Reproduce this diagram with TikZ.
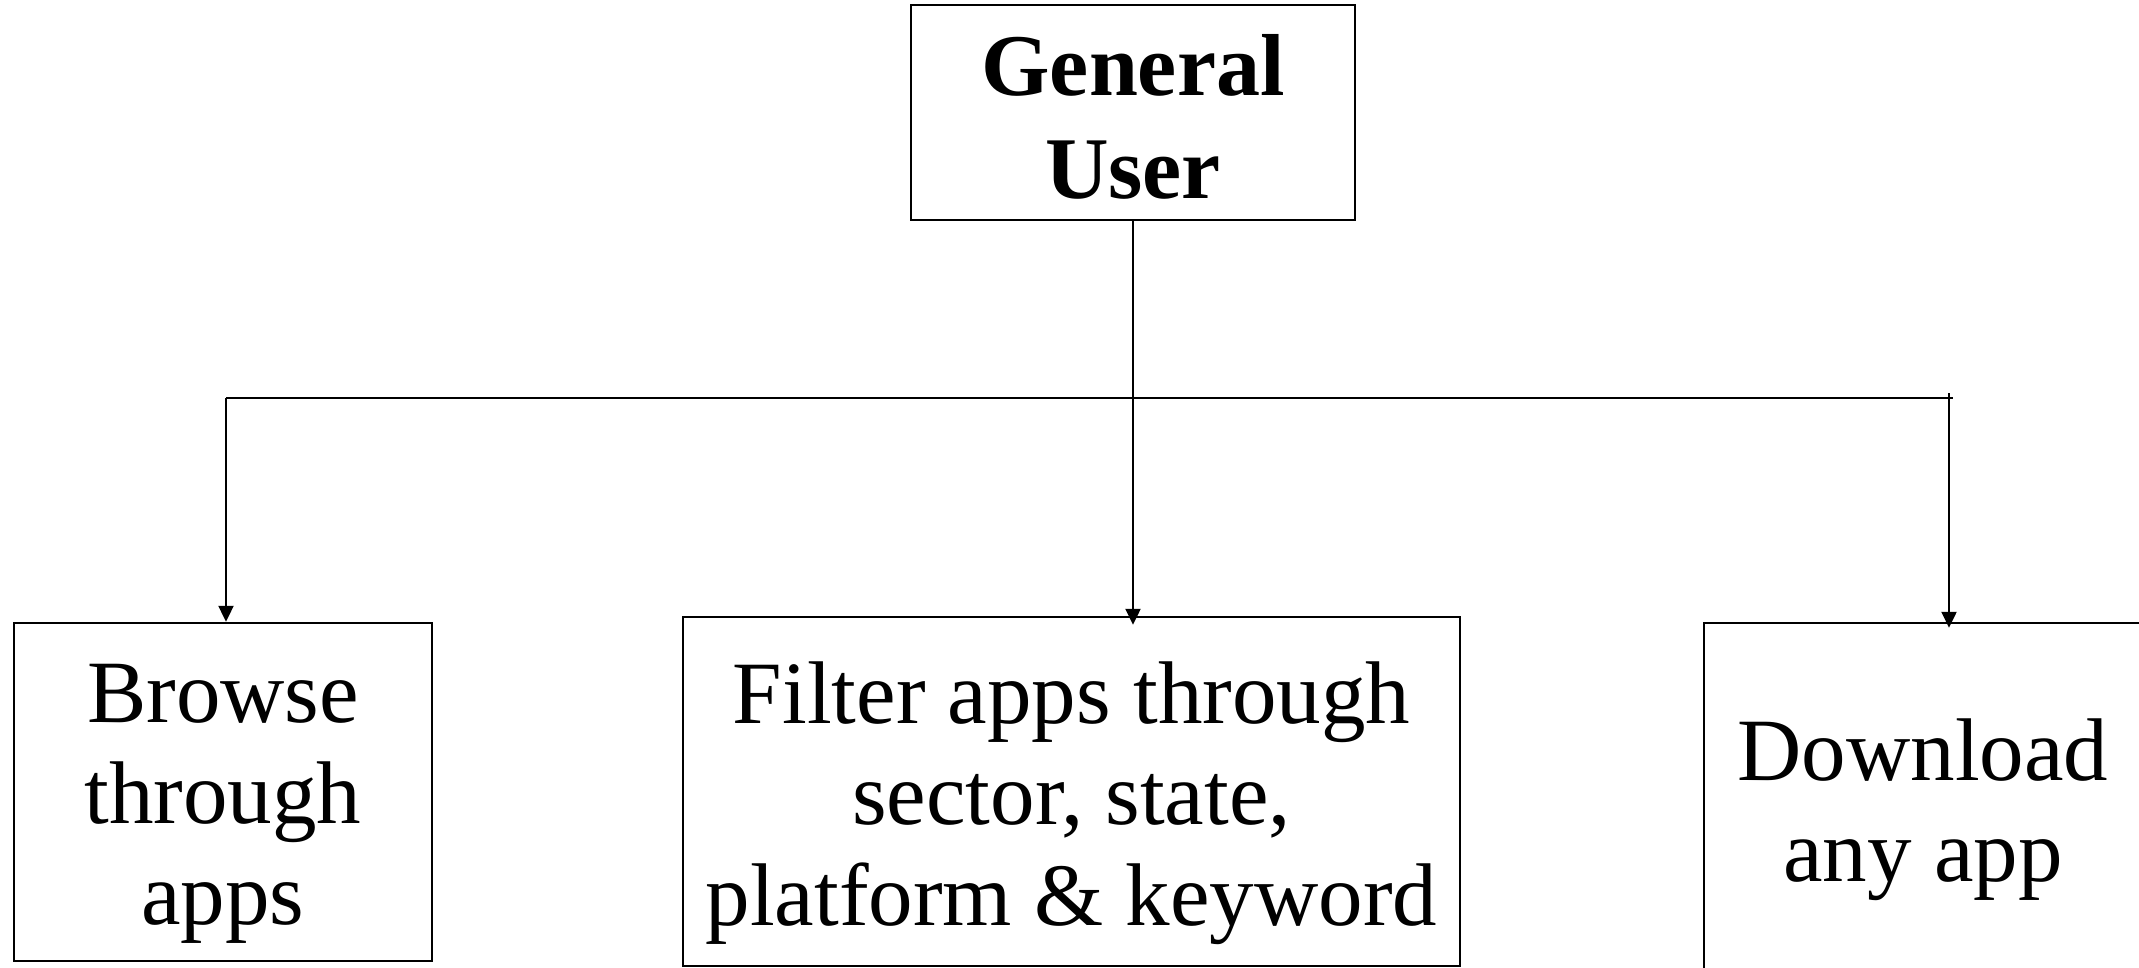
\documentclass[tikz,border=0pt]{standalone}
\usepackage{fontspec}
\setmainfont{Liberation Serif}
\usetikzlibrary{arrows.meta}
\begin{document}
\begin{tikzpicture}[x=1pt,y=-1pt,
  box/.style={draw, line width=2.5pt, rectangle, inner sep=0pt},
  txt/.style={align=center, inner sep=0pt, font=\fontsize{89}{101}\selectfont},
  txtb/.style={align=center, inner sep=0pt, font=\fontsize{88}{103}\selectfont\bfseries},
  conn/.style={line width=1.6pt},
  arr/.style={line width=2.4pt, -{Triangle[length=16pt,width=15pt]}}]
\useasboundingbox (0,0) rectangle (2139,968);
% boxes
\node[box, minimum width=444pt, minimum height=215pt] (gu) at (1133,112.5) {};
\node[box, minimum width=418pt, minimum height=338pt] (browse) at (223,792) {};
\node[box, minimum width=777pt, minimum height=349pt] (filter) at (1071.5,791.5) {};
\node[box, minimum width=438pt, minimum height=380pt] (download) at (1923,813) {};
% texts
\node[txtb] (gut) at (1133,116.5) {General\\User};
\node[txt] (browset) at (223,804) {Browse\\through\\apps};
\node[txt] (filtert) at (1071.5,803) {Filter apps through\\sector, state,\\platform \& keyword};
\node[txt] (downloadt) at (1923,809.5) {Download\\any app};
% connectors
\coordinate (bl) at (226,398);
\coordinate (br) at (1953,398);
\coordinate (dtop) at (1949,393);
\draw[conn] (bl) -- (br);
\draw[conn] (gu.south) -- (gu.south |- bl);
\draw[arr] (gu.south |- bl) -- ([yshift=-9pt]gu.south |- filter.north);
\draw[arr] (bl) -- (bl |- browse.north);
\draw[arr] (dtop) -- ([yshift=-6pt]dtop |- download.north);
\end{tikzpicture}
\end{document}
